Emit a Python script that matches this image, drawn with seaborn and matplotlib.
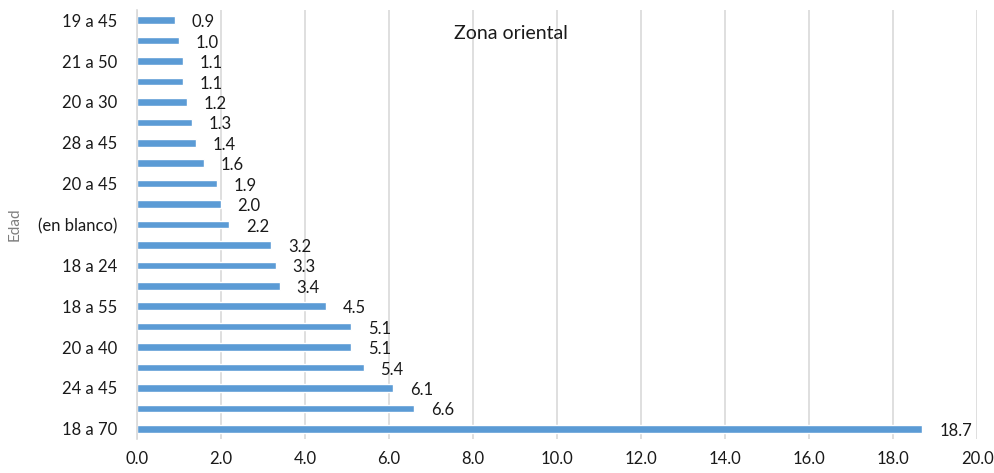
import pandas as pd
import matplotlib.pyplot as plt
import seaborn as sns

# Datos (de arriba hacia abajo); las categorias sin rotulo visible van como "_n"
edades = ["19 a 45", "_1", "21 a 50", "_2", "20 a 30", "_3", "28 a 45", "_4",
          "20 a 45", "_5", "(en blanco)", "_6", "18 a 24", "_7", "18 a 55", "_8",
          "20 a 40", "_9", "24 a 45", "_10", "18 a 70"]
valores = [0.9, 1.0, 1.1, 1.1, 1.2, 1.3, 1.4, 1.6, 1.9, 2.0, 2.2,
           3.2, 3.3, 3.4, 4.5, 5.1, 5.1, 5.4, 6.1, 6.6, 18.7]
xticks = [0.0, 2.0, 4.0, 6.0, 8.0, 10.0, 12.0, 14.0, 16.0, 18.0, 20.0]

df = pd.DataFrame({"Edad": edades, "Valor": valores})

sns.set_style("white")
plt.rcParams['font.family'] = ['Lato', 'DejaVu Sans']

fig = plt.figure(figsize=(9.95, 4.73), dpi=100)
ax = fig.add_axes([0.1377, 0.072, 0.8443, 0.907])

sns.barplot(data=df, y="Edad", x="Valor", orient="h", color="#5B9BD5",
            saturation=1, width=0.37, ax=ax)
etiquetas = ax.bar_label(ax.containers[0], fmt="%.1f", padding=12,
                         fontsize=12, color="#1a1a1a")
for t in etiquetas:
    t.xyann = (12, -1.5)

ax.set_xlim(0, 20)
ax.set_ylim(len(edades) - 0.5, -0.5)
ax.set_xticks(xticks)
ax.set_xticklabels([f"{v:.1f}" for v in xticks], fontsize=12, color="#1a1a1a")
pos = list(range(0, len(edades), 2))
ax.set_yticks(pos)
ax.set_yticklabels([edades[i] for i in pos], fontsize=12, color="#1a1a1a")
ax.tick_params(axis="y", length=0, pad=14)
ax.tick_params(axis="x", length=0, pad=9)

ax.grid(axis="x", color="#D9D9D9", linewidth=1.2)
ax.set_axisbelow(True)
for s in ["top", "right", "bottom"]:
    ax.spines[s].set_visible(False)
ax.spines["left"].set_color("#D9D9D9")
ax.spines["left"].set_linewidth(1.2)

ax.set_xlabel("")
ax.set_ylabel("Edad", fontsize=11, color="#7f7f7f", labelpad=12)
ax.text(0.445, 0.945, "Zona oriental", transform=ax.transAxes, ha="center",
        va="center", fontsize=14, color="#1a1a1a")

fig.savefig("out.png", dpi=100)
